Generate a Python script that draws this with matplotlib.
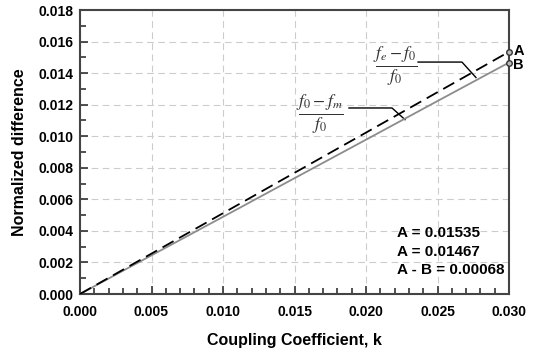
import matplotlib
matplotlib.use("Agg")
import matplotlib.pyplot as plt
from matplotlib.ticker import MultipleLocator, FormatStrFormatter

plt.rcParams['font.family'] = ['Liberation Sans', 'DejaVu Sans']
plt.rcParams['mathtext.fontset'] = 'stix'

# data
k = [0.000, 0.005, 0.010, 0.015, 0.020, 0.025, 0.030]
upper = [0.0, 0.00256, 0.00512, 0.00768, 0.01023, 0.01279, 0.01535]   # (fe - f0)/f0
lower = [0.0, 0.00245, 0.00489, 0.00734, 0.00978, 0.01223, 0.01467]   # (f0 - fm)/f0
notes = ["A = 0.01535", "A = 0.01467", "A - B = 0.00068"]

fig = plt.figure(figsize=(5.37, 3.55), dpi=100)
ax = fig.add_axes([80/537, 61/355, 429/537, 284/355])

ax.plot(k, lower, color='#8c8c8c', lw=1.3, zorder=3)
ax.plot(k, upper, color='black', lw=1.3, ls=(0, (7, 3.5)), zorder=4)
ax.plot([k[-1]], [upper[-1]], 'o', ms=4, mfc='#bbbbbb', mec='#333333', mew=1, clip_on=False, zorder=5)
ax.plot([k[-1]], [lower[-1]], 'o', ms=4, mfc='#bbbbbb', mec='#333333', mew=1, clip_on=False, zorder=5)
ax.text(0.0303, upper[-1] + 0.00008, 'A', fontsize=10.5, fontweight='bold', va='center')
ax.text(0.0303, lower[-1] - 0.00018, 'B', fontsize=10.5, fontweight='bold', va='center')

# fraction labels with leader lines
ax.text(0.02203, 0.01445, r'$\frac{f_e - f_0}{f_0}$', fontsize=18, color='#333333', ha='center', va='center')
ax.plot([0.02364, 0.02671, 0.02769], [0.0147, 0.0147, 0.01372], color='black', lw=1)
ax.text(0.01678, 0.01141, r'$\frac{f_0 - f_m}{f_0}$', fontsize=18, color='#333333', ha='center', va='center')
ax.plot([0.01881, 0.02182, 0.02273], [0.01179, 0.01179, 0.01105], color='black', lw=1)

for i, s in enumerate(notes):
    ax.text(0.0222, 0.00385 - i * 0.00118, s, fontsize=11, fontweight='bold', va='center')

ax.set_xlim(0, 0.030)
ax.set_ylim(0, 0.018)
ax.xaxis.set_major_locator(MultipleLocator(0.005))
ax.xaxis.set_minor_locator(MultipleLocator(0.001))
ax.yaxis.set_major_locator(MultipleLocator(0.002))
ax.yaxis.set_minor_locator(MultipleLocator(0.001))
ax.xaxis.set_major_formatter(FormatStrFormatter('%.3f'))
ax.yaxis.set_major_formatter(FormatStrFormatter('%.3f'))
ax.tick_params(which='both', direction='in', top=False, right=False, width=1.2, color='#333333')
ax.tick_params(which='major', length=6, labelsize=10, pad=5)
ax.tick_params(axis='x', which='major', pad=8)
ax.tick_params(which='minor', length=4)
for lab in ax.get_xticklabels() + ax.get_yticklabels():
    lab.set_fontweight('bold')
ax.grid(True, which='major', color='#cccccc', ls=(0, (6, 4)), lw=0.8)
for sp in ax.spines.values():
    sp.set_linewidth(1.5)
    sp.set_color('#444444')

ax.set_xlabel('Coupling Coefficient, k', fontsize=11.5, fontweight='bold', labelpad=10)
ax.set_ylabel('Normalized difference', fontsize=11.5, fontweight='bold', labelpad=8)

fig.savefig('out.png', dpi=100)
